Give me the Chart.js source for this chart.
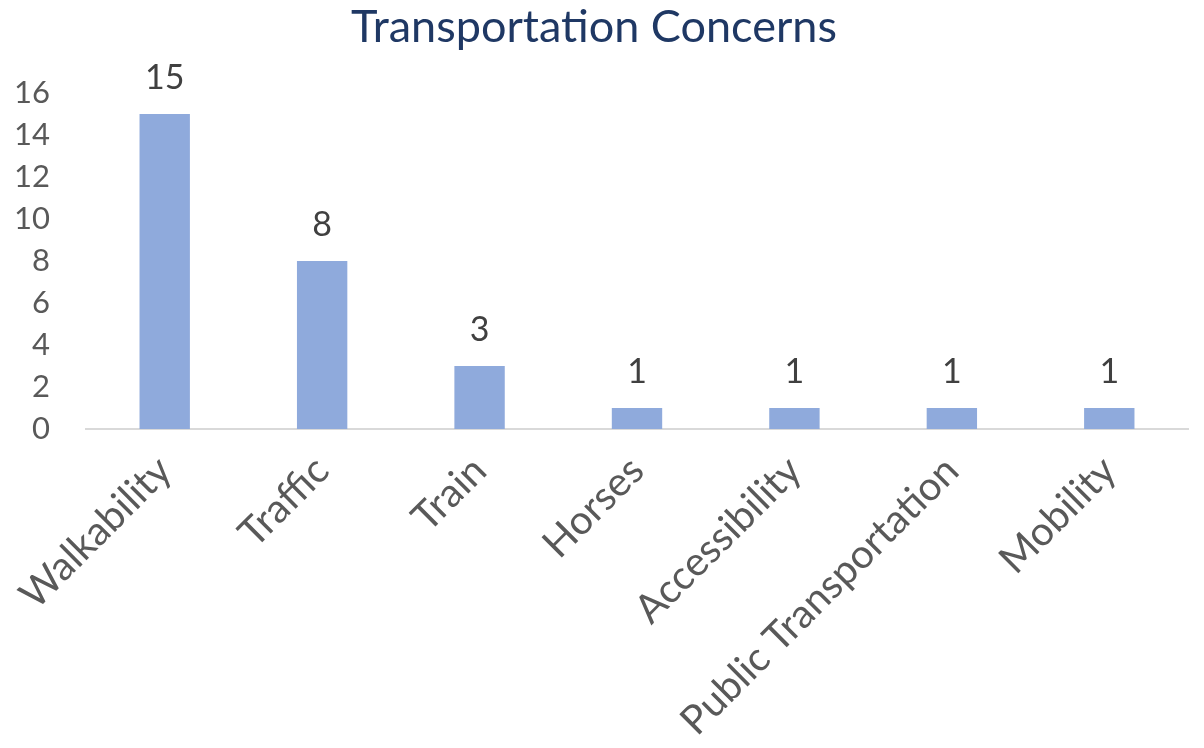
<!DOCTYPE html>
<html>
<head>
<meta charset="utf-8">
<title>Transportation Concerns</title>
<script src="https://cdn.jsdelivr.net/npm/chart.js@4.4.1/dist/chart.umd.min.js"></script>
<style>
    html, body { margin: 0; padding: 0; background: #ffffff; }
    #wrap { width: 1204px; height: 748px; position: relative; }
</style>
</head>
<body>
<div id="wrap"><canvas id="chart"></canvas></div>
<script>
// Data
const categories = ['Walkability', 'Traffic', 'Train', 'Horses', 'Accessibility', 'Public Transportation', 'Mobility'];
const concernCounts = [15, 8, 3, 1, 1, 1, 1];
const yTicks = [0, 2, 4, 6, 8, 10, 12, 14, 16];

const FONT = 'Lato, "Open Sans", sans-serif';

// Draw the value above each bar
const valueLabels = {
    id: 'valueLabels',
    afterDatasetsDraw(chart) {
        const ctx = chart.ctx;
        const meta = chart.getDatasetMeta(0);
        ctx.save();
        ctx.font = '34px ' + FONT;
        ctx.fillStyle = '#404040';
        ctx.textAlign = 'center';
        ctx.textBaseline = 'bottom';
        meta.data.forEach((bar, i) => {
            ctx.fillText(String(concernCounts[i]), bar.x, bar.y - 19);
        });
        ctx.restore();
    }
};

new Chart(document.getElementById('chart'), {
    type: 'bar',
    data: {
        labels: categories,
        datasets: [{
            data: concernCounts,
            backgroundColor: '#8FAADC',
            borderWidth: 0,
            categoryPercentage: 1,
            barPercentage: 0.32
        }]
    },
    options: {
        responsive: true,
        maintainAspectRatio: false,
        animation: false,
        layout: {
            padding: { left: 0, right: 16, top: 0, bottom: 0 }
        },
        plugins: {
            legend: { display: false },
            tooltip: { enabled: false },
            title: {
                display: true,
                text: 'Transportation Concerns',
                color: '#1F3864',
                font: { family: FONT, size: 45, weight: 'normal' },
                padding: { top: 0, bottom: 39 }
            }
        },
        scales: {
            x: {
                grid: { display: false, drawTicks: false },
                border: { display: true, color: '#D9D9D9', width: 2 },
                ticks: {
                    color: '#595959',
                    font: { family: FONT, size: 40 },
                    minRotation: 45,
                    maxRotation: 45,
                    autoSkip: false,
                    padding: 18
                },
                afterFit(scale) { scale.height = 319; }
            },
            y: {
                min: 0,
                max: 16,
                grid: { display: false, drawTicks: false },
                border: { display: false },
                afterBuildTicks(scale) { scale.ticks = yTicks.map(v => ({ value: v })); },
                ticks: {
                    color: '#595959',
                    font: { family: FONT, size: 31 },
                    padding: 36
                },
                afterFit(scale) { scale.width = 86; }
            }
        }
    },
    plugins: [valueLabels]
});
</script>
</body>
</html>
